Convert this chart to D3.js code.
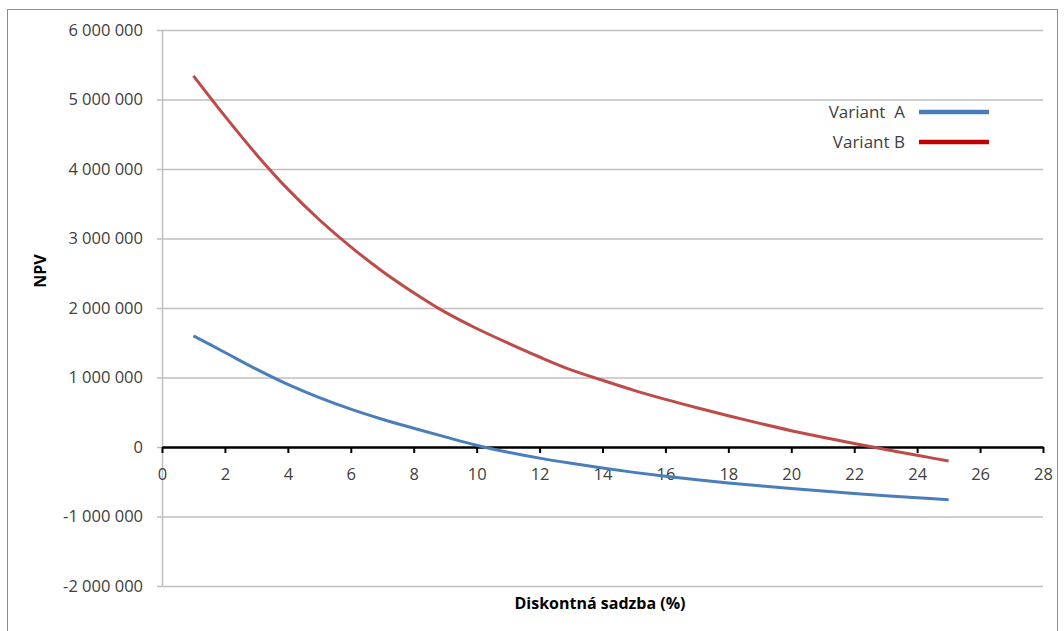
<!DOCTYPE html>
<html>
<head>
<meta charset="utf-8">
<script src="https://cdn.jsdelivr.net/npm/d3@7"></script>
<style>
  body { margin: 0; background: #fff; }
  text { font-family: "Open Sans", sans-serif; fill: #404040; }
</style>
</head>
<body>
<div id="app"></div>
<script>
// discount rates (%)
const rates = d3.range(1, 26);
// NPV values
const variantA = [1600000, 1360000, 1120000, 900000, 710000, 545000, 400000, 270000, 145000, 25000,
  -75000, -160000, -235000, -303000, -365000, -421000, -471000, -517000, -559000, -598000,
  -634000, -668000, -700000, -730000, -758000];
const variantB = [5340000, 4760000, 4210000, 3710000, 3270000, 2880000, 2530000, 2220000, 1940000, 1705000,
  1495000, 1295000, 1110000, 960000, 815000, 685000, 565000, 450000, 340000, 235000,
  140000, 50000, -35000, -120000, -200000];
const seriesNames = ["Variant  A", "Variant B"];
const xTicks = d3.range(0, 29, 2);
const yTicks = d3.range(-2000000, 6000001, 1000000);

const W = 1064, H = 631;
const plotLeft = 162, plotRight = 1043, plotTop = 30, plotBottom = 586;

const svg = d3.select("#app").append("svg")
    .attr("width", W)
    .attr("height", H);

// outer chart frame
svg.append("rect")
    .attr("x", 7.5).attr("y", 9.5)
    .attr("width", 1050).attr("height", 640)
    .attr("fill", "none")
    .attr("stroke", "#8c8c8c");

const x = d3.scaleLinear([0, 28], [plotLeft, plotRight]);
const y = d3.scaleLinear([-2000000, 6000000], [plotBottom, plotTop]);

const fmt = v => d3.format(",")(v).replace(/,/g, " ").replace("−", "-");

// y axis with gridlines
const yAxis = svg.append("g")
    .attr("transform", `translate(${plotLeft},0)`)
    .call(d3.axisLeft(y).tickValues(yTicks).tickSizeInner(-(plotRight - plotLeft)).tickSizeOuter(0).tickPadding(19).tickFormat(fmt));
yAxis.select(".domain").attr("stroke", "#bfbfbf").attr("stroke-width", 1.5);
yAxis.selectAll(".tick line").attr("x1", -5).attr("stroke", "#bfbfbf").attr("stroke-width", 1.5);
yAxis.selectAll(".tick text").attr("font-size", 16.5).style("fill", "#404040");

// x axis on zero line
const xAxis = svg.append("g")
    .attr("transform", `translate(0,${y(0)})`)
    .call(d3.axisBottom(x).tickValues(xTicks).tickSizeInner(6).tickSizeOuter(0).tickPadding(15));
xAxis.select(".domain").attr("stroke", "#000").attr("stroke-width", 2.5);
xAxis.selectAll(".tick line").attr("stroke", "#000").attr("stroke-width", 2);
xAxis.selectAll(".tick text").attr("font-size", 16.5).style("fill", "#404040");

// lines
const line = d3.line()
    .x((d, i) => x(rates[i]))
    .y(d => y(d))
    .curve(d3.curveCatmullRom.alpha(0.5));

svg.append("path")
    .datum(variantA)
    .attr("d", line)
    .attr("fill", "none")
    .attr("stroke", "#4a7ebb")
    .attr("stroke-width", 3);

svg.append("path")
    .datum(variantB)
    .attr("d", line)
    .attr("fill", "none")
    .attr("stroke", "#be4b48")
    .attr("stroke-width", 3);

// legend
const legendColors = ["#4a7ebb", "#c00000"];
const legend = svg.append("g").attr("transform", "translate(905,112)");
seriesNames.forEach((name, i) => {
    const g = legend.append("g").attr("transform", `translate(0,${i * 30})`);
    g.append("text")
        .attr("text-anchor", "end")
        .attr("dy", "0.35em")
        .attr("font-size", 17)
        .style("white-space", "pre")
        .text(name);
    g.append("line")
        .attr("x1", 14).attr("x2", 84)
        .attr("stroke", legendColors[i])
        .attr("stroke-width", 4.5);
});

// axis titles
svg.append("text")
    .attr("transform", "translate(40,271) rotate(-90)")
    .attr("text-anchor", "middle")
    .attr("dy", "0.35em")
    .attr("font-size", 16)
    .attr("font-weight", "bold")
    .style("fill", "#000")
    .text("NPV");

svg.append("text")
    .attr("x", 600).attr("y", 603)
    .attr("text-anchor", "middle")
    .attr("dy", "0.35em")
    .attr("font-size", 16)
    .attr("font-weight", "bold")
    .style("fill", "#000")
    .text("Diskontná sadzba (%)");
</script>
</body>
</html>
